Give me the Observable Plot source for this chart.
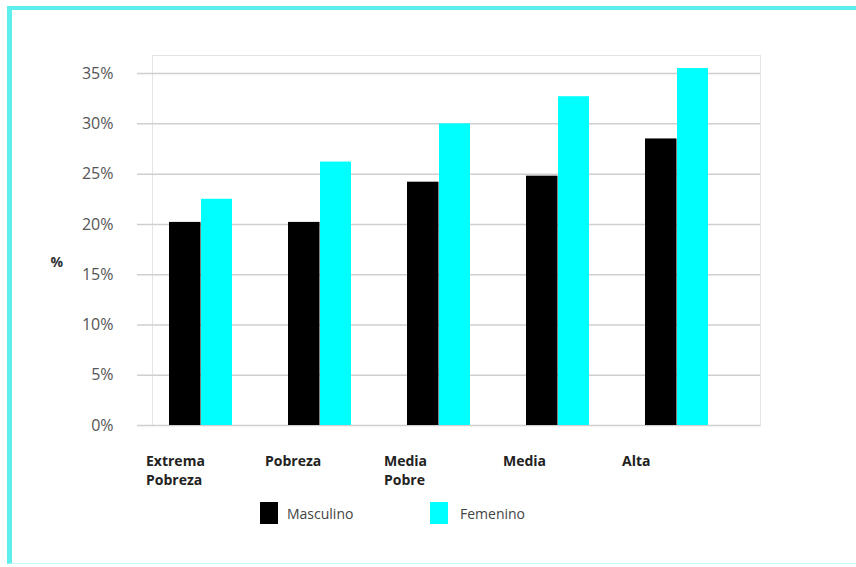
<!DOCTYPE html>
<html>
<head>
<meta charset="utf-8">
<script src="https://cdn.jsdelivr.net/npm/d3@7"></script>
<script src="https://cdn.jsdelivr.net/npm/@observablehq/plot@0.6"></script>
<style>
  html, body { margin: 0; padding: 0; background: #fff; }
  #page { position: relative; width: 856px; height: 567px; overflow: hidden; background: #fff; font-family: "Open Sans", sans-serif; }
  #border { position: absolute; left: 7px; top: 6px; width: 900px; height: 558px; border-left: 5px solid #5eeeee; border-top: 4px solid #5eeeee; border-bottom: 1px solid #c8fafa; box-sizing: border-box; }
  #chart { position: absolute; left: 0; top: 0; }
  #legend { position: absolute; left: 0; top: 502px; width: 856px; height: 24px; }
  .item { position: absolute; top: 0; display: flex; align-items: center; height: 22px; font-size: 14px; color: #444; }
  .sw { width: 18px; height: 22px; margin-right: 9px; }
</style>
</head>
<body>
<div id="page">
  <div id="border"></div>
  <div id="chart"></div>
  <div id="legend"></div>
</div>
<script>
const categories = ["Extrema Pobreza", "Pobreza", "Media Pobre", "Media", "Alta"];
const tickLabels = ["Extrema\nPobreza", "Pobreza", "Media\nPobre", "Media", "Alta"];
const masculino = [20.2, 20.2, 24.2, 24.8, 28.5];
const femenino = [22.5, 26.2, 30.0, 32.7, 35.5];
const yTicks = [0, 5, 10, 15, 20, 25, 30, 35];
const seriesNames = ["Masculino", "Femenino"];
const seriesColors = ["#000000", "#00ffff"];

const rows = categories.map((c, i) => ({cat: c, m: masculino[i], f: femenino[i], label: tickLabels[i]}));

const chart = Plot.plot({
  width: 856,
  height: 490,
  marginLeft: 152,
  marginRight: 96,
  marginTop: 55,
  marginBottom: 65,
  style: {fontFamily: "Open Sans, sans-serif", fontSize: "14px", color: "#bdbdbd", background: "transparent"},
  x: {domain: categories, paddingInner: 0.467, paddingOuter: 0.267, align: 0.25, axis: null},
  y: {domain: [0, 36.8], ticks: [], line: true, label: null, tickSize: 0},
  marks: [
    Plot.frame({stroke: "#e3e3e3"}),
    Plot.ruleY(yTicks, {stroke: "#cfcfcf", strokeWidth: 1.5, insetLeft: -15}),
    Plot.text(yTicks, {y: d => d, frameAnchor: "left", dx: -39, textAnchor: "end", text: d => `${d}%`, fill: "#555", fontSize: 16}),
    Plot.barY(rows, {x: "cat", y: "m", fill: seriesColors[0], insetRight: 31.5}),
    Plot.barY(rows, {x: "cat", y: "f", fill: seriesColors[1], insetLeft: 32}),
    Plot.text(rows, {x: "cat", text: "label", frameAnchor: "bottom", textAnchor: "start", lineAnchor: "top", lineHeight: 1.36, dx: -55, dy: 27, fontWeight: "bold", fill: "#222", fontSize: 14}),
    Plot.text(["%"], {text: d => d, frameAnchor: "left", dx: -102, dy: 22, fontWeight: "bold", fill: "#333", fontSize: 14})
  ]
});
document.getElementById("chart").appendChild(chart);

const legend = document.getElementById("legend");
const lefts = [260, 430];
seriesNames.forEach((name, i) => {
  const item = document.createElement("div");
  item.className = "item";
  item.style.left = lefts[i] + "px";
  item.innerHTML = `<div class="sw" style="background:${seriesColors[i]}"></div><span style="margin-left:${i ? 3 : 0}px">${name}</span>`;
  legend.appendChild(item);
});
</script>
</body>
</html>
